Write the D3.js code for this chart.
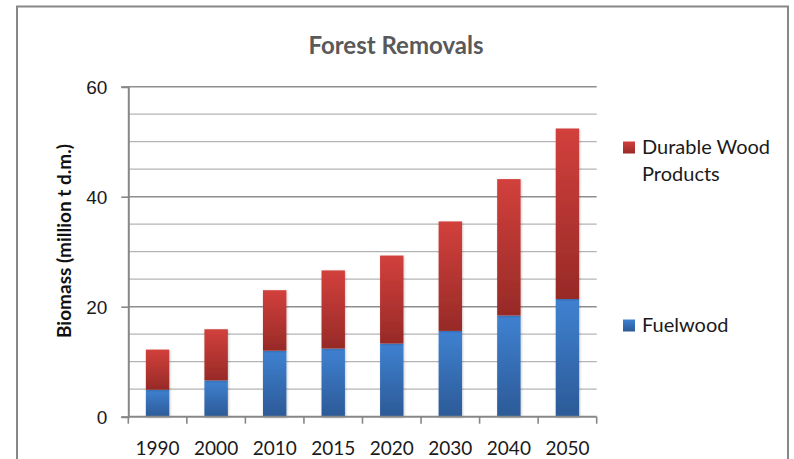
<!DOCTYPE html>
<html>
<head>
<meta charset="utf-8">
<script src="https://cdn.jsdelivr.net/npm/d3@7"></script>
<style>
  html, body { margin: 0; padding: 0; background: #fff; }
  svg { display: block; font-family: Lato, "Open Sans", sans-serif; }
</style>
</head>
<body>
<svg id="chart" width="794" height="459"></svg>
<script>
// Forest removals by year, million tonnes dry matter
const years = ["1990", "2000", "2010", "2015", "2020", "2030", "2040", "2050"];
const fuelwood = [4.9, 6.6, 12.0, 12.4, 13.3, 15.6, 18.4, 21.4];
const durableWood = [7.3, 9.3, 11.0, 14.2, 16.0, 19.9, 24.8, 31.0];
const yTicks = [0, 20, 40, 60];
const seriesNames = ["Fuelwood", "Durable Wood Products"];

const svg = d3.select("#chart");
const plot = { left: 128.3, right: 596.7, top: 86.7, bottom: 416.7 };

// outer chart frame
svg.append("rect")
  .attr("x", 17).attr("y", 6.5)
  .attr("width", 771).attr("height", 470)
  .attr("fill", "#fff").attr("stroke", "#878787").attr("stroke-width", 2);

const defs = svg.append("defs");
function grad(id, top, bottom) {
  const g = defs.append("linearGradient").attr("id", id)
    .attr("x1", 0).attr("y1", 0).attr("x2", 0).attr("y2", 1);
  g.append("stop").attr("offset", "0%").attr("stop-color", top);
  g.append("stop").attr("offset", "100%").attr("stop-color", bottom);
}
grad("gBlue", "#3f81d1", "#2c5a97");
grad("gRed", "#d2403c", "#972a27");
const shadow = defs.append("filter").attr("id", "shadow")
  .attr("x", "-30%").attr("y", "-10%").attr("width", "160%").attr("height", "120%");
shadow.append("feDropShadow").attr("dx", 0.8).attr("dy", 0.8)
  .attr("stdDeviation", 1.2).attr("flood-color", "#000").attr("flood-opacity", 0.22);

const x = d3.scaleBand().domain(years)
  .range([plot.left, plot.right]).paddingInner(0.6).paddingOuter(0.3);
const xEdge = d3.scaleLinear().domain([0, years.length]).range([plot.left, plot.right]);
const y = d3.scaleLinear().domain([0, 60]).range([plot.bottom, plot.top]);

// gridlines: minor every 5, major at labelled ticks
const gridVals = d3.range(5, 61, 5);
svg.append("g").selectAll("line").data(gridVals).join("line")
  .attr("x1", plot.left).attr("x2", plot.right)
  .attr("y1", d => y(d)).attr("y2", d => y(d))
  .attr("stroke", d => d % 20 === 0 ? "#8e8e8e" : "#b4b4b4")
  .attr("stroke-width", d => d % 20 === 0 ? 1.6 : 1.3);

// stacked bars
const rows = years.map((yr, i) => ({ year: yr, Fuelwood: fuelwood[i], "Durable Wood Products": durableWood[i] }));
const stack = d3.stack().keys(seriesNames)(rows);
const fills = { "Fuelwood": "url(#gBlue)", "Durable Wood Products": "url(#gRed)" };
const barG = svg.append("g");
stack.forEach(layer => {
  barG.append("g").attr("filter", "url(#shadow)")
    .selectAll("rect").data(layer).join("rect")
    .attr("x", d => x(d.data.year))
    .attr("width", x.bandwidth())
    .attr("y", d => y(d[1]))
    .attr("height", d => y(d[0]) - y(d[1]))
    .attr("fill", fills[layer.key]);
});

// y axis
const yAxis = d3.axisLeft(y).tickValues(yTicks).tickSize(7).tickPadding(14);
const gy = svg.append("g").attr("transform", `translate(${plot.left},0)`).call(yAxis);
gy.select(".domain").attr("stroke", "#878787").attr("stroke-width", 2);
gy.selectAll(".tick line").attr("stroke", "#878787").attr("stroke-width", 1.6);
gy.selectAll(".tick text").attr("font-size", 19).attr("fill", "#1a1a1a").attr("dy", "0.36em");

// x axis baseline and category boundary ticks
const gx = svg.append("g");
gx.append("line").attr("x1", plot.left).attr("x2", plot.right)
  .attr("y1", plot.bottom).attr("y2", plot.bottom)
  .attr("stroke", "#878787").attr("stroke-width", 2);
gx.selectAll("line.tk").data(d3.range(years.length + 1)).join("line").attr("class", "tk")
  .attr("x1", d => xEdge(d)).attr("x2", d => xEdge(d))
  .attr("y1", plot.bottom).attr("y2", plot.bottom + 7)
  .attr("stroke", "#878787").attr("stroke-width", 1.6);
gx.selectAll("text").data(years).join("text")
  .attr("x", d => x(d) + x.bandwidth() / 2)
  .attr("y", 455)
  .attr("text-anchor", "middle")
  .attr("font-size", 19).attr("fill", "#1a1a1a")
  .text(d => d);

// title
svg.append("text").attr("x", 396).attr("y", 53.5)
  .attr("text-anchor", "middle").attr("font-size", 24).attr("font-weight", "bold")
  .attr("fill", "#595959").text("Forest Removals");

// y axis title
svg.append("text")
  .attr("transform", `translate(71,241) rotate(-90)`)
  .attr("text-anchor", "middle").attr("font-size", 19).attr("font-weight", "bold")
  .attr("fill", "#111").text("Biomass (million t d.m.)");

// legend
const legend = svg.append("g");
const legendItems = [
  { key: "Durable Wood Products", lines: ["Durable Wood", "Products"], fill: "url(#gRed)", y: 154 },
  { key: "Fuelwood", lines: ["Fuelwood"], fill: "url(#gBlue)", y: 332 }
];
legendItems.forEach(item => {
  legend.append("rect").attr("x", 623).attr("y", item.y - 12.5)
    .attr("width", 12).attr("height", 12).attr("fill", item.fill);
  const t = legend.append("text").attr("x", 642).attr("y", item.y)
    .attr("font-size", 20).attr("fill", "#1a1a1a");
  item.lines.forEach((ln, i) => {
    t.append("tspan").attr("x", 642).attr("dy", i === 0 ? 0 : 26.7).text(ln);
  });
});
</script>
</body>
</html>
